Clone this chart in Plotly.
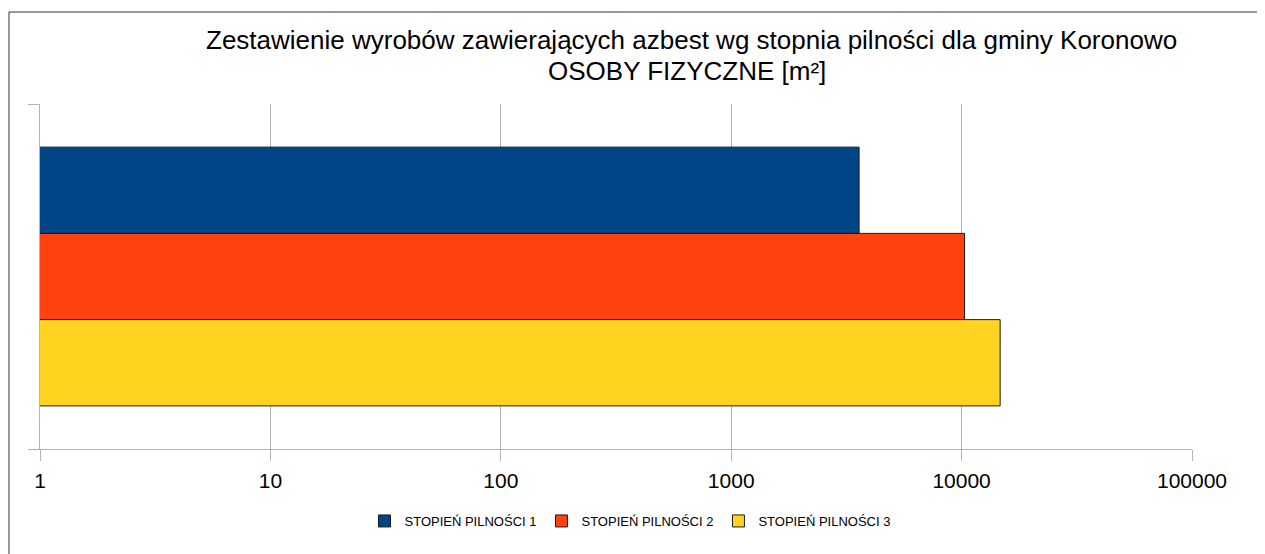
import plotly.graph_objects as go

# Data
categories = [""]
series_names = ["STOPIEŃ PILNOŚCI 1", "STOPIEŃ PILNOŚCI 2", "STOPIEŃ PILNOŚCI 3"]
series_values = [[3590], [10300], [14700]]
series_colors = ["#004586", "#ff420e", "#ffd320"]
tick_values = [1, 10, 100, 1000, 10000, 100000]
tick_labels = ["1", "10", "100", "1000", "10000", "100000"]
title_line1 = "Zestawienie wyrobów zawierających azbest wg stopnia pilności dla gminy Koronowo"
title_line2 = "OSOBY FIZYCZNE [m²]"

OFF = 8  # page body margin
W, H = 1257, 546
L, R, T, B = 32, 73, 96, 105
pw, ph = W - L - R, H - T - B

def px_x(sx):
    return (sx - OFF - L) / pw

def px_y(sy):
    return (H - B - (sy - OFF)) / ph

fig = go.Figure()
for name, vals, col in zip(series_names, series_values, series_colors):
    fig.add_trace(go.Bar(
        y=categories, x=vals, name=name, orientation="h",
        marker=dict(color=col, line=dict(color="#1a1a1a", width=1)),
    ))

grid = "#b3b3b3"
fig.update_layout(
    width=W, height=H,
    margin=dict(l=L, r=R, t=T, b=B, autoexpand=False),
    paper_bgcolor="white", plot_bgcolor="white",
    font=dict(family="Liberation Sans, Arial, sans-serif", color="black"),
    barmode="group", bargap=0.25, bargroupgap=0,
    showlegend=True,
    legend=dict(orientation="h", x=px_x(630), xanchor="center",
                y=px_y(521), yanchor="middle",
                font=dict(size=13), itemwidth=30, traceorder="normal"),
    xaxis=dict(type="log", range=[0, 5], tickvals=tick_values, ticktext=tick_labels,
               showgrid=True, gridcolor=grid, gridwidth=1,
               showline=True, linecolor=grid, linewidth=1,
               ticks="outside", ticklen=11, tickcolor=grid,
               tickfont=dict(size=21), ticklabelstandoff=2, zeroline=False),
    yaxis=dict(autorange="reversed", type="category", tickson="boundaries",
               showgrid=True, gridcolor=grid, gridwidth=1,
               showline=True, linecolor=grid, linewidth=1,
               ticks="outside", ticklen=11, tickcolor=grid,
               showticklabels=False),
    annotations=[
        dict(text=title_line1, xref="paper", yref="paper", x=px_x(691), y=px_y(40),
             xanchor="center", yanchor="middle", showarrow=False,
             font=dict(size=26, color="black")),
        dict(text=title_line2, xref="paper", yref="paper", x=px_x(687), y=px_y(71),
             xanchor="center", yanchor="middle", showarrow=False,
             font=dict(size=26, color="black")),
    ],
    shapes=[dict(type="rect", xref="paper", yref="paper",
                 x0=px_x(9), x1=px_x(1262), y0=px_y(570), y1=px_y(12),
                 line=dict(color="#333333", width=1), fillcolor="rgba(0,0,0,0)",
                 layer="below")],
)

fig.write_html("out.html")
